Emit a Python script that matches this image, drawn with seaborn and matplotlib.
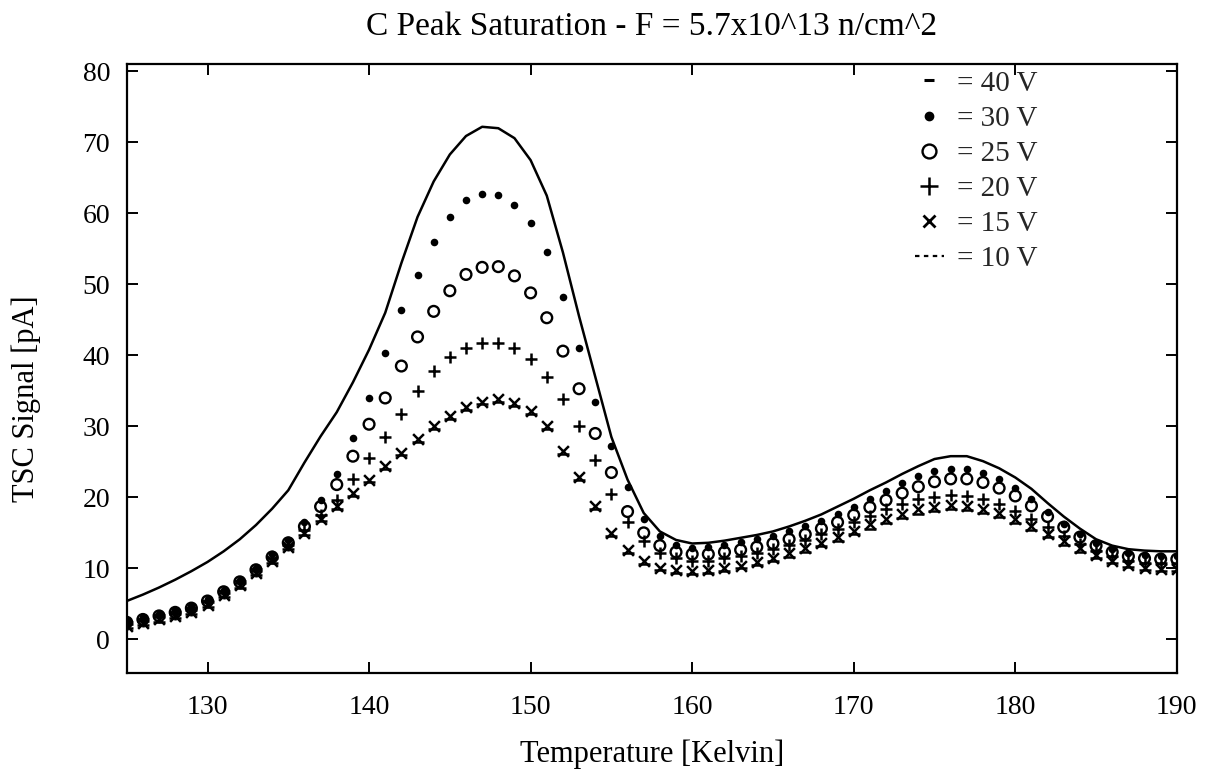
import numpy as np
import pandas as pd
import matplotlib
matplotlib.use("Agg")
import matplotlib.pyplot as plt
from matplotlib.lines import Line2D
import seaborn as sns

# ---------------- data ----------------
temperature = list(range(125, 191))

v40 = [5.4, 6.3, 7.3, 8.4, 9.6, 10.9, 12.4, 14.1, 16.1, 18.4,
       21.0, 24.9, 28.6, 32.0, 36.2, 40.8, 46.0, 53.0, 59.5, 64.5,
       68.3, 70.9, 72.2, 72.0, 70.6, 67.5, 62.5, 54.5, 45.5, 37.0,
       28.5, 22.5, 17.8, 15.2, 14.0, 13.5, 13.6, 13.9, 14.3, 14.7,
       15.2, 15.9, 16.7, 17.6, 18.7, 19.8, 21.0, 22.1, 23.3, 24.4,
       25.4, 25.8, 25.8, 25.1, 24.1, 22.8, 21.2, 19.2, 17.3, 15.6,
       14.1, 13.2, 12.7, 12.5, 12.4, 12.4]

v30 = [2.7, 3.1, 3.6, 4.1, 4.7, 5.7, 7.0, 8.4, 10.1, 12.0,
       14.0, 16.5, 19.6, 23.3, 28.3, 34.0, 40.3, 46.4, 51.3, 56.0,
       59.5, 61.9, 62.8, 62.6, 61.2, 58.6, 54.5, 48.2, 41.0, 33.5,
       27.3, 21.5, 17.0, 14.5, 13.3, 12.9, 13.0, 13.3, 13.7, 14.1,
       14.6, 15.2, 15.9, 16.7, 17.7, 18.7, 19.8, 20.9, 22.0, 23.0,
       23.7, 24.0, 24.0, 23.5, 22.6, 21.3, 19.7, 18.0, 16.3, 14.8,
       13.6, 12.7, 12.2, 11.9, 11.8, 11.8]

v25 = [2.4, 2.8, 3.3, 3.8, 4.4, 5.4, 6.7, 8.1, 9.8, 11.6,
       13.6, 15.9, 18.7, 21.8, 25.8, 30.3, 34.0, 38.5, 42.6, 46.2,
       49.1, 51.4, 52.4, 52.5, 51.2, 48.8, 45.3, 40.6, 35.3, 29.0,
       23.5, 18.0, 15.0, 13.2, 12.3, 12.0, 12.0, 12.3, 12.6, 13.0,
       13.5, 14.1, 14.8, 15.6, 16.5, 17.5, 18.6, 19.6, 20.6, 21.5,
       22.2, 22.6, 22.6, 22.1, 21.3, 20.2, 18.8, 17.3, 15.8, 14.4,
       13.2, 12.3, 11.7, 11.4, 11.3, 11.3]

v20 = [2.2, 2.6, 3.1, 3.6, 4.2, 5.2, 6.5, 7.9, 9.6, 11.4,
       13.3, 15.4, 17.5, 19.6, 22.6, 25.5, 28.5, 31.8, 35.0, 37.8,
       39.8, 41.0, 41.7, 41.8, 41.1, 39.5, 37.0, 33.8, 30.0, 25.3,
       20.5, 16.5, 13.8, 12.2, 11.4, 11.1, 11.1, 11.4, 11.8, 12.2,
       12.7, 13.3, 14.0, 14.8, 15.6, 16.5, 17.4, 18.3, 19.1, 19.7,
       20.1, 20.3, 20.2, 19.7, 19.0, 18.1, 17.0, 15.8, 14.6, 13.5,
       12.5, 11.7, 11.1, 10.8, 10.7, 10.7]

v15 = [1.9, 2.3, 2.8, 3.3, 3.9, 4.9, 6.2, 7.6, 9.3, 11.1,
       13.0, 15.0, 17.0, 18.8, 20.6, 22.5, 24.4, 26.3, 28.2, 30.0,
       31.5, 32.7, 33.5, 33.8, 33.3, 32.1, 30.0, 26.5, 22.8, 18.8,
       15.0, 12.6, 11.0, 10.1, 9.7, 9.6, 9.7, 10.0, 10.4, 10.9,
       11.5, 12.1, 12.8, 13.6, 14.4, 15.3, 16.2, 17.0, 17.7, 18.3,
       18.7, 18.9, 18.8, 18.4, 17.8, 17.0, 16.0, 14.9, 13.8, 12.8,
       11.9, 11.1, 10.5, 10.1, 9.9, 9.9]

v10 = [1.6, 2.0, 2.5, 3.0, 3.6, 4.6, 5.9, 7.3, 9.0, 10.8,
       12.7, 14.7, 16.6, 18.4, 20.2, 22.1, 24.0, 25.9, 27.8, 29.6,
       31.1, 32.3, 33.1, 33.4, 32.9, 31.7, 29.6, 26.1, 22.4, 18.4,
       14.6, 12.2, 10.6, 9.7, 9.3, 9.2, 9.3, 9.6, 10.0, 10.5,
       11.0, 11.6, 12.3, 13.1, 13.9, 14.8, 15.6, 16.4, 17.1, 17.7,
       18.1, 18.3, 18.2, 17.8, 17.2, 16.4, 15.4, 14.4, 13.3, 12.3,
       11.5, 10.8, 10.2, 9.8, 9.6, 9.6]

voltages = ["40 V", "30 V", "25 V", "20 V", "15 V", "10 V"]
x_ticks = [130, 140, 150, 160, 170, 180, 190]
y_ticks = [0, 10, 20, 30, 40, 50, 60, 70, 80]

title = "C Peak Saturation - F = 5.7x10^13 n/cm^2"
xlabel = "Temperature [Kelvin]"
ylabel = "TSC Signal [pA]"

# ---------------- build long table ----------------
series = dict(zip(voltages, [v40, v30, v25, v20, v15, v10]))
df = pd.concat(
    [pd.DataFrame({"T": temperature, "S": vals, "V": v}) for v, vals in series.items()],
    ignore_index=True,
)

# ---------------- style ----------------
sns.set_theme(style="ticks")
plt.rcParams["font.family"] = ["Liberation Serif", "DejaVu Serif"]
plt.rcParams["axes.edgecolor"] = "black"
plt.rcParams["axes.linewidth"] = 1.6

fig = plt.figure(figsize=(12.07, 7.75), dpi=100)
ax = fig.add_axes([0.105, 0.132, 0.870, 0.785])

ink = "black"
# 40 V: solid line
sns.lineplot(data=df[df.V == "40 V"], x="T", y="S", ax=ax, color=ink,
             linewidth=1.8, legend=False)
# 30 V: filled dots
sns.scatterplot(data=df[df.V == "30 V"], x="T", y="S", ax=ax, marker="o",
                color=ink, s=30, linewidth=0, legend=False)
# 25 V: open circles
sns.scatterplot(data=df[df.V == "25 V"], x="T", y="S", ax=ax, marker="o",
                facecolor="none", edgecolor=ink, s=60, linewidth=1.7, legend=False)
# 20 V: plus
sns.scatterplot(data=df[df.V == "20 V"], x="T", y="S", ax=ax, marker="+",
                color=ink, s=80, linewidth=1.8, legend=False)
# 15 V: x
sns.scatterplot(data=df[df.V == "15 V"], x="T", y="S", ax=ax, marker="x",
                color=ink, s=60, linewidth=1.8, legend=False)
# 10 V: short dashes
sns.scatterplot(data=df[df.V == "10 V"], x="T", y="S", ax=ax, marker="_",
                color=ink, s=70, linewidth=1.8, legend=False)

ax.set_xlim(125, 190)
ax.set_ylim(-4.7, 81)
ax.set_xticks(x_ticks)
ax.set_yticks(y_ticks)
ax.tick_params(axis="both", which="both", direction="in", length=8, width=1.4,
               labelsize=20, top=True, right=True, colors=ink)
ax.tick_params(axis="x", pad=16)
ax.tick_params(axis="y", pad=12)
for sp in ax.spines.values():
    sp.set_visible(True)
    sp.set_color(ink)

ax.set_xlabel(xlabel, fontsize=22, labelpad=14, color=ink)
ax.set_ylabel(ylabel, fontsize=22, color=ink)
ax.yaxis.set_label_coords(-0.082, 0.45)
ax.set_title(title, fontsize=24, pad=21, color=ink)

# legend
handles = [
    Line2D([], [], color=ink, marker="_", linestyle="none", markersize=7, markeredgewidth=2.2),
    Line2D([], [], color=ink, marker="o", linestyle="none", markersize=6),
    Line2D([], [], color=ink, marker="o", markerfacecolor="none", linestyle="none",
           markersize=10, markeredgewidth=1.7),
    Line2D([], [], color=ink, marker="+", linestyle="none", markersize=13, markeredgewidth=1.8),
    Line2D([], [], color=ink, marker="x", linestyle="none", markersize=9, markeredgewidth=2.0),
    Line2D([], [], color=ink, linestyle="--", linewidth=1.6, dashes=(2, 2)),
]
labels = ["= " + v for v in voltages]
ax.legend(handles, labels, loc="upper left", bbox_to_anchor=(0.745, 1.0),
          frameon=False, fontsize=21, handlelength=1.0, handletextpad=0.45,
          labelspacing=0.3, borderaxespad=0.1, borderpad=0.1)

fig.savefig("out.png", dpi=100)
